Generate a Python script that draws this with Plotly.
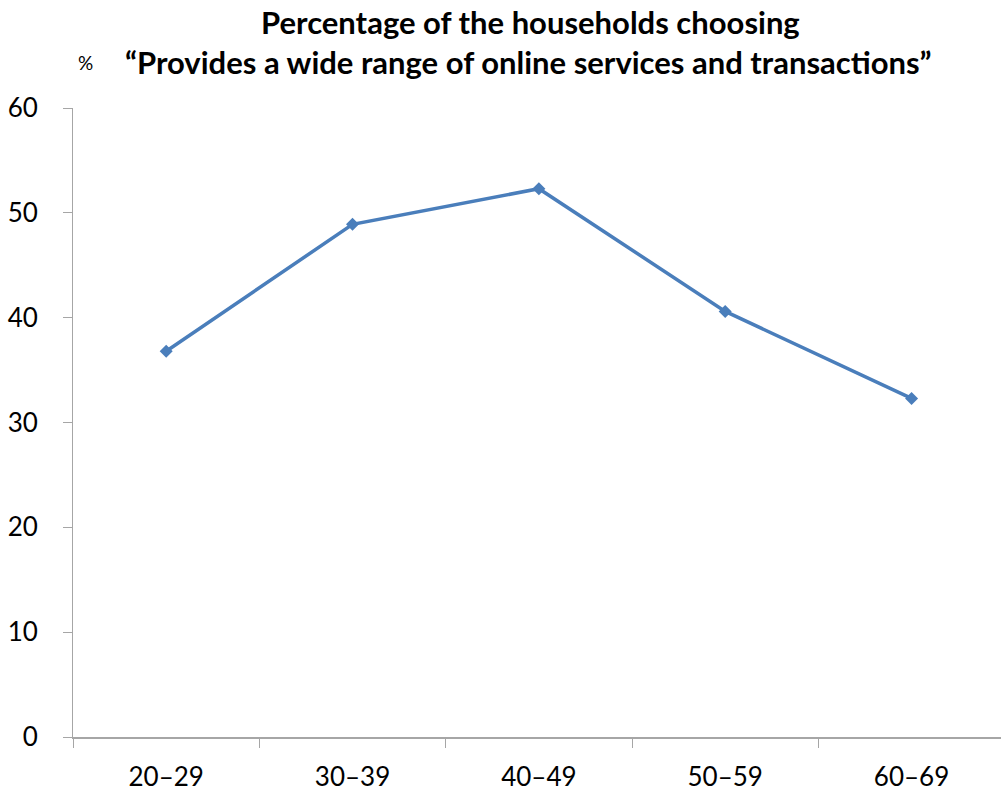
import plotly.graph_objects as go

# Age groups and share of households choosing the option (%)
age_groups = ["20–29", "30–39", "40–49", "50–59", "60–69"]
share_pct = [36.8, 48.9, 52.3, 40.6, 32.3]
y_ticks = [0, 10, 20, 30, 40, 50, 60]

title_lines = [
    "Percentage of the households choosing",
    "“Provides a wide range of online services and transactions”",
]
unit_label = "%"

FONT = "Lato, Noto Sans, sans-serif"
AXIS_GRAY = "#a6a6a6"

fig = go.Figure()
fig.add_trace(go.Scatter(
    x=age_groups,
    y=share_pct,
    mode="lines+markers",
    line=dict(color="#4a7ebb", width=3.5),
    marker=dict(symbol="diamond", size=10, color="#4a7ebb"),
    showlegend=False,
    cliponaxis=False,
))

fig.update_layout(
    width=1001,
    height=802,
    margin=dict(l=73, r=0, t=108, b=65),
    paper_bgcolor="white",
    plot_bgcolor="white",
    font=dict(family=FONT, color="black"),
    xaxis=dict(
        type="category",
        range=[-0.5, 4.48],
        tickson="boundaries",
        ticks="outside",
        ticklen=9,
        tickcolor=AXIS_GRAY,
        tickwidth=1,
        showline=True,
        linecolor=AXIS_GRAY,
        linewidth=2,
        showgrid=False,
        zeroline=False,
        tickfont=dict(size=26, family=FONT),
        ticklabelstandoff=16,
    ),
    yaxis=dict(
        range=[0, 60],
        tickvals=y_ticks,
        ticks="outside",
        ticklen=9,
        tickcolor=AXIS_GRAY,
        tickwidth=1,
        showline=True,
        linecolor=AXIS_GRAY,
        linewidth=1,
        showgrid=False,
        zeroline=False,
        tickfont=dict(size=26, family=FONT),
        ticklabelstandoff=20,
    ),
)

fig.add_annotation(
    text="<b>" + title_lines[0] + "</b>",
    xref="paper", yref="paper", x=0.5, y=1, xanchor="center", yanchor="middle",
    xshift=530 - (73 + 928 / 2), yshift=108 - 22,
    showarrow=False, font=dict(size=31, family=FONT),
)
fig.add_annotation(
    text="<b>" + title_lines[1] + "</b>",
    xref="paper", yref="paper", x=0.5, y=1, xanchor="center", yanchor="middle",
    xshift=528 - (73 + 928 / 2), yshift=108 - 62,
    showarrow=False, font=dict(size=31, family=FONT),
)
fig.add_annotation(
    text=unit_label,
    xref="paper", yref="paper", x=0, y=1, xanchor="center", yanchor="middle",
    xshift=85 - 73, yshift=108 - 62,
    showarrow=False, font=dict(size=19, family=FONT),
)

fig.write_html("out.html")
